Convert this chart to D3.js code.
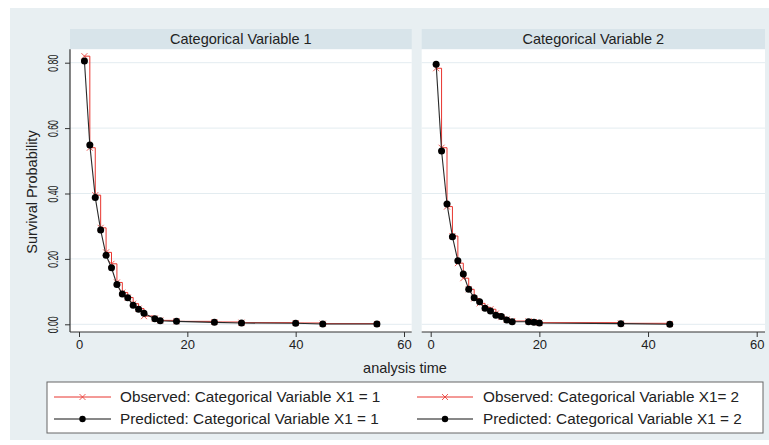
<!DOCTYPE html>
<html><head><meta charset="utf-8">
<script src="https://cdn.jsdelivr.net/npm/d3@7"></script>
<style>body{margin:0;background:#fff}svg{display:block}text{font-family:"Liberation Sans",Arial,sans-serif;fill:#222}</style>
</head><body><svg id="c" width="769" height="445"></svg>
<script>
const panelTitles = ["Categorical Variable 1", "Categorical Variable 2"];
const times1 = [1,2,3,4,5,6,7,8,9,10,11,12,14,15,18,25,30,40,45,55];
const obs1 =   [0.82,0.54,0.395,0.295,0.22,0.185,0.128,0.097,0.082,0.063,0.048,0.025,0.018,0.012,0.009,0.007,0.005,0.004,0.002,0.001];
const pred1 =  [0.805,0.548,0.388,0.288,0.211,0.173,0.122,0.093,0.081,0.058,0.046,0.034,0.017,0.011,0.009,0.006,0.004,0.003,0.001,0.001];
const times2 = [1,2,3,4,5,6,7,8,9,10,11,12,13,14,15,18,19,20,35,44];
const obs2 =   [0.783,0.54,0.36,0.27,0.187,0.141,0.107,0.079,0.064,0.052,0.046,0.033,0.022,0.015,0.010,0.009,0.007,0.005,0.003,0.001];
const pred2 =  [0.795,0.53,0.368,0.268,0.194,0.154,0.107,0.081,0.069,0.049,0.041,0.028,0.024,0.013,0.008,0.008,0.006,0.004,0.002,0.0];
const xTicks = [0,20,40,60];
const yTicks = [0,0.2,0.4,0.6,0.8];
const legendLabels = ["Observed: Categorical Variable X1 = 1","Predicted: Categorical Variable X1 = 1","Observed: Categorical Variable X1= 2","Predicted: Categorical Variable X1 = 2"];

const svg = d3.select("#c");
const RED = "#e8352e";
svg.append("rect").attr("x",10).attr("y",8).attr("width",759).attr("height",432).attr("fill","#e8eff2");

const plotTop = 49.3, plotBottom = 332;
const y = d3.scaleLinear().domain([0,0.8]).range([324.3,62.7]);
const panels = [
  {title:panelTitles[0], x0:70, x1:411.7, xr:[79,404], t:times1, o:obs1, p:pred1, yaxis:true},
  {title:panelTitles[1], x0:421.7, x1:765, xr:[430.7,756.7], t:times2, o:obs2, p:pred2, yaxis:false}
];

panels.forEach(P => {
  const x = d3.scaleLinear().domain([0,60]).range(P.xr);
  const g = svg.append("g");
  g.append("rect").attr("x",P.x0).attr("y",29).attr("width",P.x1-P.x0).attr("height",plotTop-29).attr("fill","#d8e4ea");
  g.append("text").attr("x",(P.x0+P.x1)/2).attr("y",39).attr("dy","0.35em").attr("text-anchor","middle").attr("font-size",14.5).text(P.title);
  g.append("rect").attr("x",P.x0).attr("y",plotTop).attr("width",P.x1-P.x0).attr("height",plotBottom-plotTop).attr("fill","#fff");
  g.selectAll(".grid").data(yTicks).join("line").attr("x1",P.x0).attr("x2",P.x1)
    .attr("y1",d=>y(d)).attr("y2",d=>y(d)).attr("stroke","#e3ecf0").attr("stroke-width",1);
  const xa = g.append("g").attr("transform",`translate(0,${plotBottom})`)
    .call(d3.axisBottom(x).tickValues(xTicks).tickSize(5).tickPadding(3).tickFormat(d3.format("d")));
  xa.select(".domain").remove();
  xa.selectAll("line").attr("stroke","#333");
  xa.selectAll("text").attr("font-size",13).attr("font-family","Liberation Sans, Arial, sans-serif").attr("fill","#333");
  g.append("line").attr("x1",P.x0).attr("x2",P.x1).attr("y1",plotBottom).attr("y2",plotBottom).attr("stroke","#333").attr("stroke-width",1.2);
  if (P.yaxis) {
    const ya = g.append("g").attr("transform",`translate(${P.x0},0)`)
      .call(d3.axisLeft(y).tickValues(yTicks).tickSize(5).tickFormat(d3.format(".2f")));
    ya.select(".domain").remove();
    ya.selectAll("line").attr("stroke","#333");
    ya.selectAll("text").attr("font-size",14).attr("font-family","Liberation Sans, Arial, sans-serif").attr("fill","#333")
      .attr("x",0).attr("y",0).attr("dy","0.35em").attr("text-anchor","middle")
      .attr("transform","translate(-17,0) rotate(-90) scale(0.62,1)");
    g.append("line").attr("x1",P.x0).attr("x2",P.x0).attr("y1",plotTop).attr("y2",plotBottom).attr("stroke","#333").attr("stroke-width",1.2);
  }
  const obsData = P.t.map((t,i)=>[t,P.o[i]]);
  const predData = P.t.map((t,i)=>[t,P.p[i]]);
  g.append("path").attr("d",d3.line().x(d=>x(d[0])).y(d=>y(d[1])).curve(d3.curveStepAfter)(obsData))
    .attr("fill","none").attr("stroke",RED).attr("stroke-width",1);
  g.selectAll(".ox").data(obsData).join("path")
    .attr("d",d=>{const cx=x(d[0]),cy=y(d[1]),s=3;return `M${cx-s},${cy-s}L${cx+s},${cy+s}M${cx-s},${cy+s}L${cx+s},${cy-s}`;})
    .attr("stroke",RED).attr("stroke-width",0.8).attr("fill","none");
  g.append("path").attr("d",d3.line().x(d=>x(d[0])).y(d=>y(d[1]))(predData))
    .attr("fill","none").attr("stroke","#2a2a2a").attr("stroke-width",1.1);
  g.selectAll(".pd").data(predData).join("circle").attr("cx",d=>x(d[0])).attr("cy",d=>y(d[1])).attr("r",3.5).attr("fill","#000");
});

svg.append("text").attr("transform","translate(32,192) rotate(-90)").attr("text-anchor","middle").attr("dy","0.35em").attr("font-size",14.5).text("Survival Probability");
svg.append("text").attr("x",405).attr("y",368).attr("text-anchor","middle").attr("dy","0.35em").attr("font-size",14.5).text("analysis time");

svg.append("rect").attr("x",47).attr("y",382).attr("width",716).attr("height",51).attr("fill","#fff").attr("stroke","#666").attr("stroke-width",1);
const legItems = [
  {lx:54, rx:111, tx:120, cy:397, label:legendLabels[0], obs:true},
  {lx:54, rx:111, tx:120, cy:419, label:legendLabels[1], obs:false},
  {lx:417, rx:473, tx:483, cy:397, label:legendLabels[2], obs:true},
  {lx:417, rx:473, tx:483, cy:419, label:legendLabels[3], obs:false}
];
legItems.forEach(L => {
  const mx = (L.lx+L.rx)/2;
  svg.append("line").attr("x1",L.lx).attr("x2",L.rx).attr("y1",L.cy).attr("y2",L.cy).attr("stroke",L.obs?RED:"#111").attr("stroke-width",1);
  if (L.obs) {
    const s=3;
    svg.append("path").attr("d",`M${mx-s},${L.cy-s}L${mx+s},${L.cy+s}M${mx-s},${L.cy+s}L${mx+s},${L.cy-s}`).attr("stroke",RED).attr("stroke-width",0.8);
  } else {
    svg.append("circle").attr("cx",mx).attr("cy",L.cy).attr("r",3.2).attr("fill","#000");
  }
  svg.append("text").attr("x",L.tx).attr("y",L.cy).attr("dy","0.35em").attr("font-size",15.3).text(L.label);
});
</script></body></html>
